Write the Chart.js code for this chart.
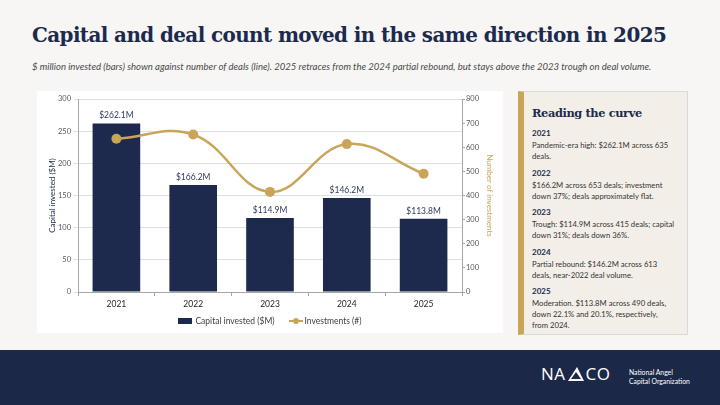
<!DOCTYPE html>
<html>
<head>
<meta charset="utf-8">
<script src="https://cdn.jsdelivr.net/npm/chart.js@4.4.1/dist/chart.umd.min.js"></script>
<style>
  html, body { margin: 0; padding: 0; }
  body { width: 720px; height: 405px; background: #f7f6f4; position: relative; overflow: hidden; font-family: Lato, "Open Sans", sans-serif; }
  .title { position: absolute; left: 32px; top: 35px; transform: translateY(-50%); font-family: "DejaVu Serif", Georgia, serif; font-weight: bold; font-size: 22px; color: #1c2a4d; white-space: nowrap; letter-spacing: -0.6px; }
  .sub { position: absolute; left: 32px; top: 66px; transform: translateY(-50%); font-style: italic; font-size: 9.5px; color: #4a4a4a; white-space: nowrap; }
  .panel { position: absolute; left: 37px; top: 91px; width: 466px; height: 242px; background: #fff; }
  .legend { position: absolute; left: 37px; top: 315px; width: 466px; text-align: center; font-size: 8.5px; color: #404040; }
  .legend span { display: inline-block; vertical-align: middle; }
  .sw-bar { width: 14px; height: 6px; background: #1d2a4d; margin-right: 3px; }
  .sw-line { width: 14px; height: 8px; position: relative; margin: 0 2px 0 14px; }
  .sw-line:before { content: ""; position: absolute; left: 0; right: 0; top: 3px; height: 2px; background: #c9a55a; }
  .sw-line:after { content: ""; position: absolute; left: 4px; top: 1px; width: 6px; height: 6px; border-radius: 50%; background: #c9a55a; }
  .notes { position: absolute; left: 518px; top: 91px; background: #f3efe8; border: 1px solid #d6d9de; border-left: 6px solid #c9a55a; box-sizing: border-box; width: 170px; height: 244px; }
  .notes h2 { margin: 0; position: absolute; top: 21px; left: 8px; transform: translateY(-50%); font-family: "DejaVu Serif", Georgia, serif; font-size: 14px; font-weight: bold; color: #1c2a4d; letter-spacing: -0.4px; white-space: nowrap; }
  .blk { position: absolute; left: 8px; font-size: 7.7px; line-height: 10.8px; color: #333; white-space: nowrap; }
  .blk b { display: block; color: #1c2a4d; font-size: 8px; margin-bottom: 1.5px; }
  .footer { position: absolute; left: 0; top: 350px; width: 720px; height: 55px; background: #1b2847; }
  .logo { position: absolute; left: 541px; top: 362px; color: #fff; font-family: "Open Sans", sans-serif; font-size: 17px; letter-spacing: 0.5px; }
  .logo-sub { position: absolute; left: 629px; top: 368px; color: #fff; font-size: 6.8px; line-height: 8.5px; }
</style>
</head>
<body>
<div class="title" data-w="638">Capital and deal count moved in the same direction in 2025</div>
<div class="sub" data-w="620">$ million invested (bars) shown against number of deals (line). 2025 retraces from the 2024 partial rebound, but stays above the 2023 trough on deal volume.</div>

<div class="panel"><canvas id="c" width="466" height="242"></canvas></div>
<div class="legend"><span class="sw-bar"></span><span>Capital invested ($M)</span><span class="sw-line"></span><span>Investments (#)</span></div>

<div class="notes">
  <h2 data-w="111">Reading the curve</h2>
  <div class="blk" style="top:36px"><b>2021</b>Pandemic-era high: $262.1M across 635<br>deals.</div>
  <div class="blk" style="top:76px"><b>2022</b>$166.2M across 653 deals; investment<br>down 37%; deals approximately flat.</div>
  <div class="blk" style="top:115px"><b>2023</b>Trough: $114.9M across 415 deals; capital<br>down 31%; deals down 36%.</div>
  <div class="blk" style="top:155px"><b>2024</b>Partial rebound: $146.2M across 613<br>deals, near-2022 deal volume.</div>
  <div class="blk" style="top:194px"><b>2025</b>Moderation. $113.8M across 490 deals,<br>down 22.1% and 20.1%, respectively,<br>from 2024.</div>
</div>

<div class="footer"></div>
<div class="logo">NA<svg width="16" height="14" viewBox="0 0 16 14" style="vertical-align:-1px;margin:0 2px"><polygon points="9,0 16,14 0,14" fill="#fff"/><polygon points="8,5 3,12 13,12" fill="#1b2847"/></svg>CO</div>
<div class="logo-sub">National Angel<br>Capital Organization</div>

<script>
// squeeze headline text to the width it takes in the slide
document.querySelectorAll('[data-w]').forEach(function(el) {
  const target = +el.dataset.w;
  const size = parseFloat(getComputedStyle(el).fontSize);
  el.style.fontSize = (size * target / el.scrollWidth) + 'px';
});

const years = ['2021', '2022', '2023', '2024', '2025'];
const capital = [262.1, 166.2, 114.9, 146.2, 113.8];
const deals = [635, 653, 415, 613, 490];
const capitalLabels = ['$262.1M', '$166.2M', '$114.9M', '$146.2M', '$113.8M'];

const navy = '#1d2a4d';
const gold = '#c9a55a';

const barLabels = {
  id: 'barLabels',
  afterDatasetsDraw(chart) {
    const ctx = chart.ctx;
    const meta = chart.getDatasetMeta(1);
    ctx.save();
    ctx.font = '8.5px Lato';
    ctx.fillStyle = '#2c3a5a';
    ctx.textAlign = 'center';
    ctx.textBaseline = 'middle';
    meta.data.forEach(function(bar, i) {
      ctx.fillText(capitalLabels[i], bar.x, bar.y - 8);
    });
    ctx.restore();
  }
};

new Chart(document.getElementById('c'), {
  data: {
    labels: years,
    datasets: [
      {
        type: 'line', label: 'Investments (#)', data: deals, yAxisID: 'y2',
        borderColor: gold, backgroundColor: gold, borderWidth: 2.5,
        pointRadius: 5, pointBackgroundColor: gold, pointBorderWidth: 0,
        tension: 0.4, order: 0
      },
      {
        type: 'bar', label: 'Capital invested ($M)', data: capital, yAxisID: 'y',
        backgroundColor: navy, barPercentage: 0.62, categoryPercentage: 1, order: 1
      }
    ]
  },
  options: {
    responsive: false,
    animation: false,
    layout: { padding: { top: 8, left: 0, right: 0, bottom: 0 } },
    plugins: { legend: { display: false }, tooltip: { enabled: false } },
    scales: {
      x: {
        afterFit(s) { s.height = 41; },
        grid: { drawOnChartArea: false, tickLength: 4, color: '#a6a6a6', offset: true },
        border: { color: '#a6a6a6' },
        ticks: { font: { family: 'Lato', size: 8.5 }, color: '#262626', padding: 3 }
      },
      y: {
        position: 'left', min: 0, max: 300,
        afterFit(s) { s.width = 41; },
        grid: { color: '#dcdfe3', tickLength: 4 },
        border: { color: '#a6a6a6' },
        ticks: { stepSize: 50, font: { family: 'Lato', size: 7.5 }, color: '#595959', padding: 3 },
        title: { display: true, text: 'Capital invested ($M)', color: navy, font: { family: 'Lato', size: 8 }, padding: { top: 11, bottom: 0 } }
      },
      y2: {
        position: 'right', min: 0, max: 800,
        afterFit(s) { s.width = 41; },
        grid: { drawOnChartArea: false, tickLength: 3, color: '#a6a6a6' },
        border: { color: '#a6a6a6' },
        ticks: { stepSize: 100, font: { family: 'Lato', size: 7.5 }, color: '#595959', padding: 1 },
        title: { display: true, text: 'Number of investments', color: gold, font: { family: 'Lato', size: 8 }, padding: { top: 9, bottom: 0 } }
      }
    }
  },
  plugins: [barLabels]
});
</script>
</body>
</html>
